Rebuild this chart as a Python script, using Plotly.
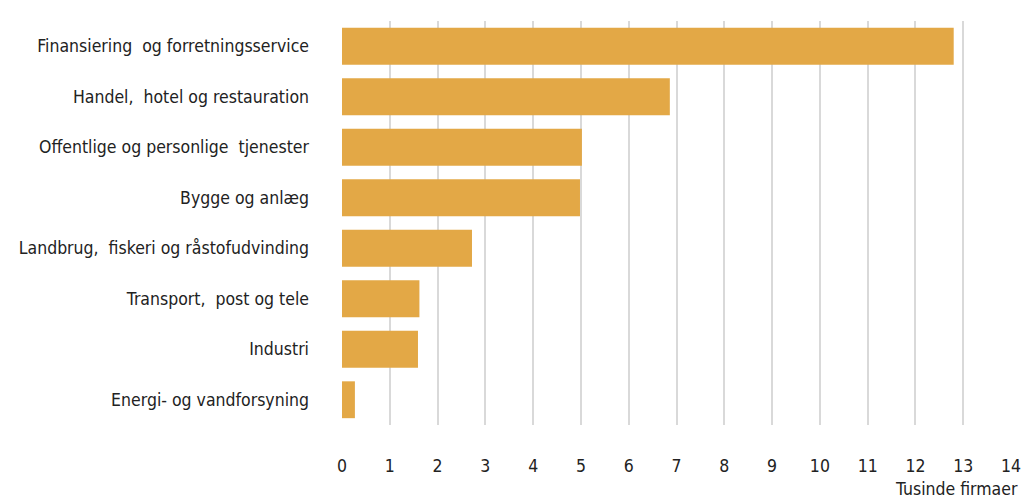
import plotly.graph_objects as go

categories = [
    "Finansiering  og forretningsservice",
    "Handel,  hotel og restauration",
    "Offentlige og personlige  tjenester",
    "Bygge og anlæg",
    "Landbrug,  fiskeri og råstofudvinding",
    "Transport,  post og tele",
    "Industri",
    "Energi- og vandforsyning",
]
values = [12.8, 6.86, 5.02, 4.98, 2.72, 1.62, 1.59, 0.27]
x_ticks = list(range(0, 15))
x_title = "Tusinde firmaer"

font_family = "Liberation Sans Narrow, DejaVu Sans Condensed, Arial Narrow, sans-serif"

fig = go.Figure(go.Bar(
    x=values,
    y=categories,
    orientation="h",
    marker=dict(color="#E3A846", line=dict(width=0)),
))

fig.update_layout(
    width=1022, height=499,
    margin=dict(l=342, r=10, t=21, b=74, autoexpand=False),
    paper_bgcolor="white", plot_bgcolor="white",
    bargap=0.27,
    showlegend=False,
    font=dict(family=font_family, size=17.5, color="#222222"),
    xaxis=dict(
        range=[0, 14.02], tickvals=x_ticks, showgrid=True,
        gridcolor="#D9D9D9", gridwidth=1.5, zeroline=False,
        showline=False, ticks="", ticklabelstandoff=28,
        ticklabeloverflow="allow", automargin=False,
        tickfont=dict(size=17.5),
    ),
    yaxis=dict(
        categoryorder="array", categoryarray=categories[::-1],
        showgrid=False, zeroline=False, ticks="", automargin=False,
        ticklabelstandoff=32, tickfont=dict(size=17.5),
    ),
    annotations=[dict(
        text=x_title, xref="paper", yref="paper", x=1.0, y=0,
        xanchor="right", yanchor="top", yshift=-52, xshift=8, showarrow=False,
        font=dict(size=17.5, family=font_family, color="#222222"),
    )],
)

fig.write_html(
    "out.html",
    config={"displayModeBar": False},
    post_script="document.body.style.margin='0';document.body.style.overflow='hidden';",
)
